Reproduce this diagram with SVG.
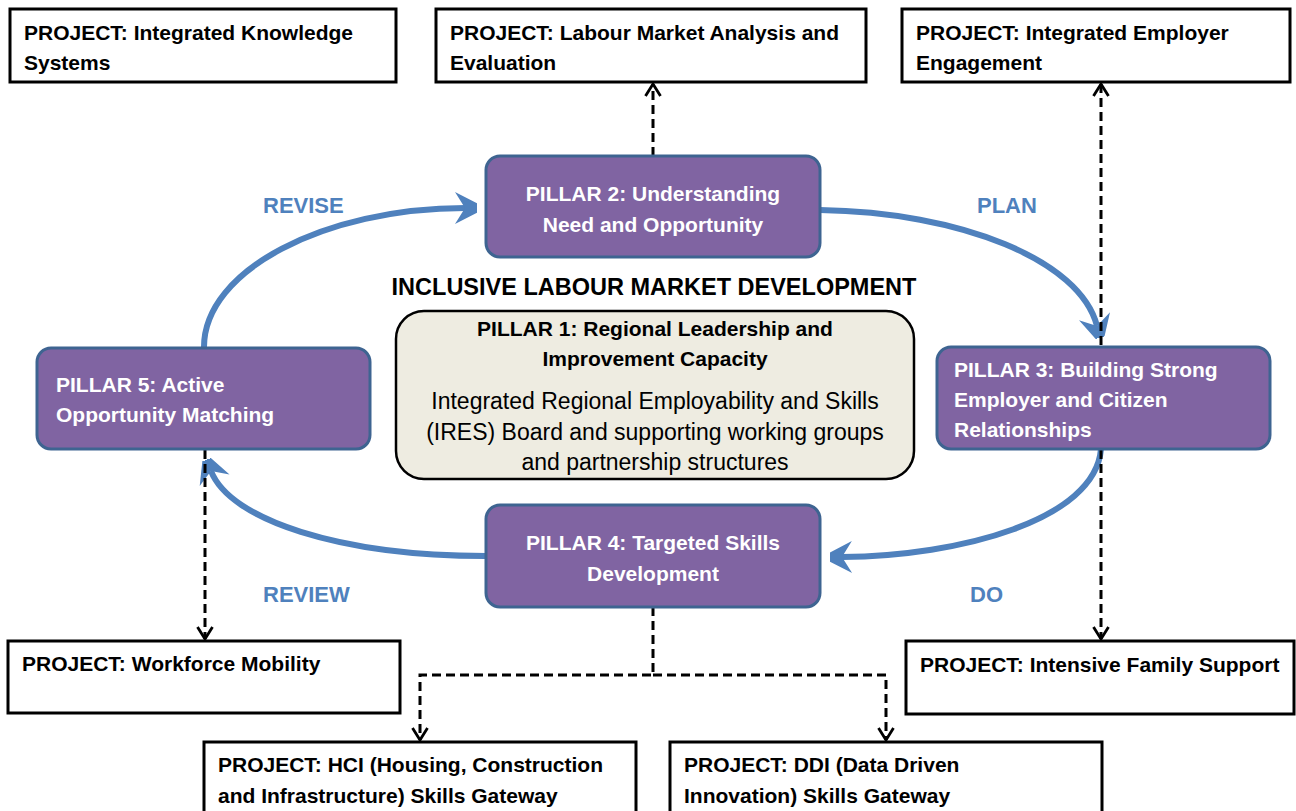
<svg xmlns="http://www.w3.org/2000/svg" width="1296" height="811" viewBox="0 0 1296 811">
<style>
text{font-family:"Liberation Sans",Arial,sans-serif}
.proj rect{fill:#fff;stroke:#000;stroke-width:3}
.proj text{font-size:21px;font-weight:bold;fill:#000}
.pillar rect{fill:#8064A2;stroke:#3E6491;stroke-width:3}
.pillar text{font-size:21px;font-weight:bold;fill:#fff}
.cyc{fill:none;stroke:#4F81BD;stroke-width:6;marker-end:url(#bh)}
.dash{fill:none;stroke:#000;stroke-width:3;stroke-dasharray:9 5;marker-end:url(#oa)}
.lbl{font-size:22px;font-weight:bold;fill:#4F81BD}
</style>
<defs>
<marker id="bh" viewBox="-22 -18 34 36" refX="0" refY="0" markerWidth="34" markerHeight="36" markerUnits="userSpaceOnUse" orient="auto">
<path d="M21,0 L-10,-16 L0,0 L-10,16 Z" fill="#4F81BD"/>
</marker>
<marker id="oa" viewBox="-14 -9 16 18" refX="0" refY="0" markerWidth="16" markerHeight="18" markerUnits="userSpaceOnUse" orient="auto">
<path d="M-12,-7.5 L0,0 L-12,7.5" fill="none" stroke="#000" stroke-width="2.8"/>
</marker>
</defs>
<rect width="1296" height="811" fill="#fff"/>

<g id="connectors">
<path class="cyc" d="M204,347 C204,270 325,208 465,208"/>
<path class="cyc" d="M820,210 C960,212 1080,260 1097,326"/>
<path class="cyc" d="M1101,449 C1095,520 960,556 842,557"/>
<path class="cyc" d="M486,556 C340,556 230,520 211,471"/>
<path class="dash" d="M653,156 L653,84"/>
<path class="dash" d="M1101,345 L1101,84"/>
<path class="dash" d="M1101,450 L1101,639"/>
<path class="dash" d="M205,450 L205,639"/>
<path class="dash" d="M653,607 L653,675 L420,675 L420,740"/>
<path class="dash" d="M653,675 L886,675 L886,740"/>
</g>

<g id="labels">
<text class="lbl" x="263" y="213">REVISE</text>
<text class="lbl" x="977" y="213">PLAN</text>
<text class="lbl" x="263" y="602">REVIEW</text>
<text class="lbl" x="970" y="602">DO</text>
</g>

<text id="title" x="654" y="295" text-anchor="middle" font-size="23.5" font-weight="bold" fill="#000">INCLUSIVE LABOUR MARKET DEVELOPMENT</text>

<g id="pillar1">
<rect x="396" y="311" width="518" height="168" rx="28" fill="#EEECE1" stroke="#000" stroke-width="2.5"/>
<text x="655" y="336" text-anchor="middle" font-size="21" font-weight="bold" fill="#000">PILLAR 1: Regional Leadership and</text>
<text x="655" y="366" text-anchor="middle" font-size="21" font-weight="bold" fill="#000">Improvement Capacity</text>
<text x="655" y="409" text-anchor="middle" font-size="23" fill="#000">Integrated Regional Employability and Skills</text>
<text x="655" y="440" text-anchor="middle" font-size="23" fill="#000">(IRES) Board and supporting working groups</text>
<text x="655" y="470" text-anchor="middle" font-size="23" fill="#000">and partnership structures</text>
</g>

<g id="pillar2" class="pillar">
<rect x="486" y="156" width="334" height="101" rx="14"/>
<text x="653" y="201" text-anchor="middle">PILLAR 2: Understanding</text>
<text x="653" y="232" text-anchor="middle">Need and Opportunity</text>
</g>

<g id="pillar3" class="pillar">
<rect x="937" y="347" width="333" height="102" rx="14"/>
<text x="954" y="377">PILLAR 3: Building Strong</text>
<text x="954" y="407">Employer and Citizen</text>
<text x="954" y="437">Relationships</text>
</g>

<g id="pillar4" class="pillar">
<rect x="486" y="505" width="334" height="102" rx="14"/>
<text x="653" y="550" text-anchor="middle">PILLAR 4: Targeted Skills</text>
<text x="653" y="581" text-anchor="middle">Development</text>
</g>

<g id="pillar5" class="pillar">
<rect x="37" y="348" width="333" height="101" rx="14"/>
<text x="56" y="392">PILLAR 5: Active</text>
<text x="56" y="422">Opportunity Matching</text>
</g>

<g id="proj-iks" class="proj">
<rect x="10" y="9" width="386" height="73"/>
<text x="24" y="40">PROJECT: Integrated Knowledge</text>
<text x="24" y="70">Systems</text>
</g>

<g id="proj-lmae" class="proj">
<rect x="436" y="9" width="430" height="73"/>
<text x="450" y="40">PROJECT: Labour Market Analysis and</text>
<text x="450" y="70">Evaluation</text>
</g>

<g id="proj-iee" class="proj">
<rect x="902" y="9" width="388" height="73"/>
<text x="916" y="40">PROJECT: Integrated Employer</text>
<text x="916" y="70">Engagement</text>
</g>

<g id="proj-wm" class="proj">
<rect x="8" y="641" width="392" height="72"/>
<text x="22" y="671">PROJECT: Workforce Mobility</text>
</g>

<g id="proj-ifs" class="proj">
<rect x="906" y="641" width="388" height="73"/>
<text x="920" y="672">PROJECT: Intensive Family Support</text>
</g>

<g id="proj-hci" class="proj">
<rect x="204" y="742" width="432" height="72"/>
<text x="218" y="772">PROJECT: HCI (Housing, Construction</text>
<text x="218" y="803">and Infrastructure) Skills Gateway</text>
</g>

<g id="proj-ddi" class="proj">
<rect x="670" y="742" width="432" height="72"/>
<text x="684" y="772">PROJECT: DDI (Data Driven</text>
<text x="684" y="803">Innovation) Skills Gateway</text>
</g>
</svg>
